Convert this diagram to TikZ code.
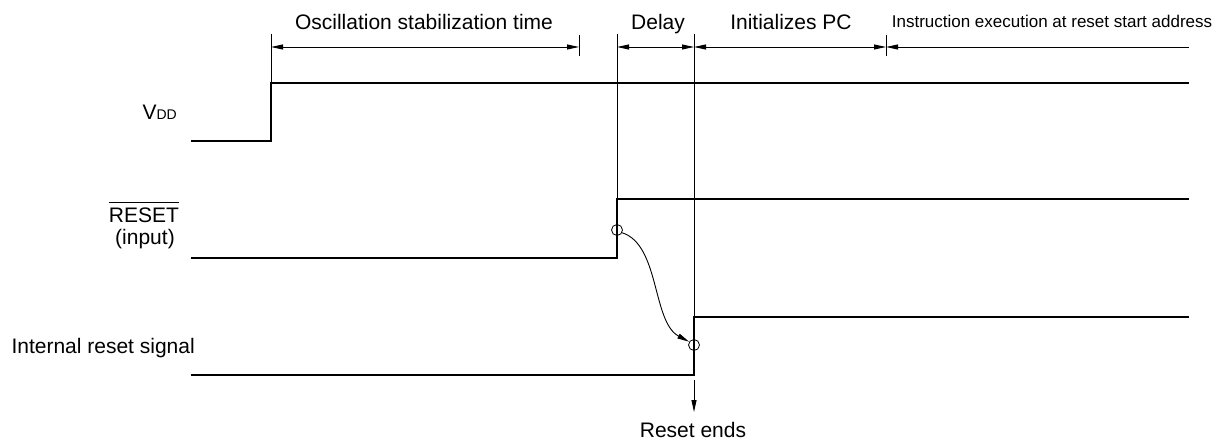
\documentclass[tikz,border=0pt]{standalone}
\usepackage{fontspec}
\setmainfont{Liberation Sans}
\usetikzlibrary{arrows.meta}
\begin{document}
\begin{tikzpicture}[x=1pt,y=-1pt,
  sig/.style={line width=2.4pt, line join=miter, line cap=rect},
  ref/.style={line width=0.9pt},
  dimline/.style={line width=0.9pt, {Triangle[length=12pt,width=5pt]}-{Triangle[length=12pt,width=5pt]}},
  lbl/.style={font=\fontsize{21}{24}\selectfont, inner sep=0pt},
  small/.style={font=\fontsize{17}{20}\selectfont, inner sep=0pt},
  ring/.style={circle, draw, line width=0.8pt, inner sep=0pt, minimum size=11pt}]
\useasboundingbox (0,0) rectangle (1225,441);

% signal coordinates
\coordinate (v0) at (192,141); \coordinate (v1) at (271,141);
\coordinate (v2) at (271,83);  \coordinate (v3) at (1188,83);
\coordinate (r0) at (192,258); \coordinate (r1) at (617,258);
\coordinate (r2) at (617,199); \coordinate (r3) at (1188,199);
\coordinate (i0) at (192,375); \coordinate (i1) at (694,375);
\coordinate (i2) at (694,317); \coordinate (i3) at (1188,317);

% reference line tops and dimension points
\coordinate (t1) at (271,34); \coordinate (t2) at (617,34); \coordinate (t3) at (694,34);
\coordinate (k1a) at (579,35); \coordinate (k1b) at (579,56);
\coordinate (k2a) at (886,35); \coordinate (k2b) at (886,56);
\coordinate (d1) at (271,47); \coordinate (d2) at (579,47);
\coordinate (d3) at (617,47); \coordinate (d4) at (694,47);
\coordinate (d5) at (886,47); \coordinate (d6) at (1189,47);
\coordinate (e0) at (694,380); \coordinate (e1) at (694,412);

% signals
\draw[sig] (v0) -- (v1) -- (v2) -- (v3);
\draw[sig] (r0) -- (r1) -- (r2) -- (r3);
\draw[sig] (i0) -- (i1) -- (i2) -- (i3);

% reference lines
\draw[ref] (t1) -- (v2);
\draw[ref] (t2) -- (r2);
\draw[ref] (t3) -- (i2);
\draw[ref] (k1a) -- (k1b);
\draw[ref] (k2a) -- (k2b);

% dimension arrows
\draw[dimline] (d1) -- (d2);
\draw[dimline] (d3) -- (d4);
\draw[dimline] (d4) -- (d5);
\draw[ref, {Triangle[length=12pt,width=5pt]}-] (d5) -- (d6);

% labels on top
\node[lbl, anchor=base] (osc) at (424,30) {Oscillation stabilization time};
\node[lbl, anchor=base] (dly) at (658,30) {Delay};
\node[lbl, anchor=base] (ipc) at (791,30) {Initializes PC};
\node[small, anchor=base] (ins) at (1052,28) {Instruction execution at reset start address};

% signal names
\node[lbl, anchor=base east] (vdd) at (177,120) {V{\fontsize{14}{14}\selectfont DD}};
\node[lbl, anchor=base] (rst) at (144,222) {RESET};
\draw[ref] ([yshift=5pt]rst.north west) -- ([yshift=5pt]rst.north east);
\node[lbl, anchor=base] (inp) at (145,244) {(input)};
\node[lbl, anchor=base east] (irs) at (195,353) {Internal reset signal};

% circles and causal arrow
\node[ring] (c1) at (617,230) {};
\node[ring] (c2) at (694,345) {};
\draw[ref, -{Triangle[length=12pt,width=5pt]}] (c1.-28) .. controls (660,245) and (652,322) .. (c2.146);

% reset ends
\draw[ref, -{Triangle[length=12pt,width=5pt]}] (e0) -- (e1);
\node[lbl, anchor=base] (rend) at (693,437) {Reset ends};
\end{tikzpicture}
\end{document}
